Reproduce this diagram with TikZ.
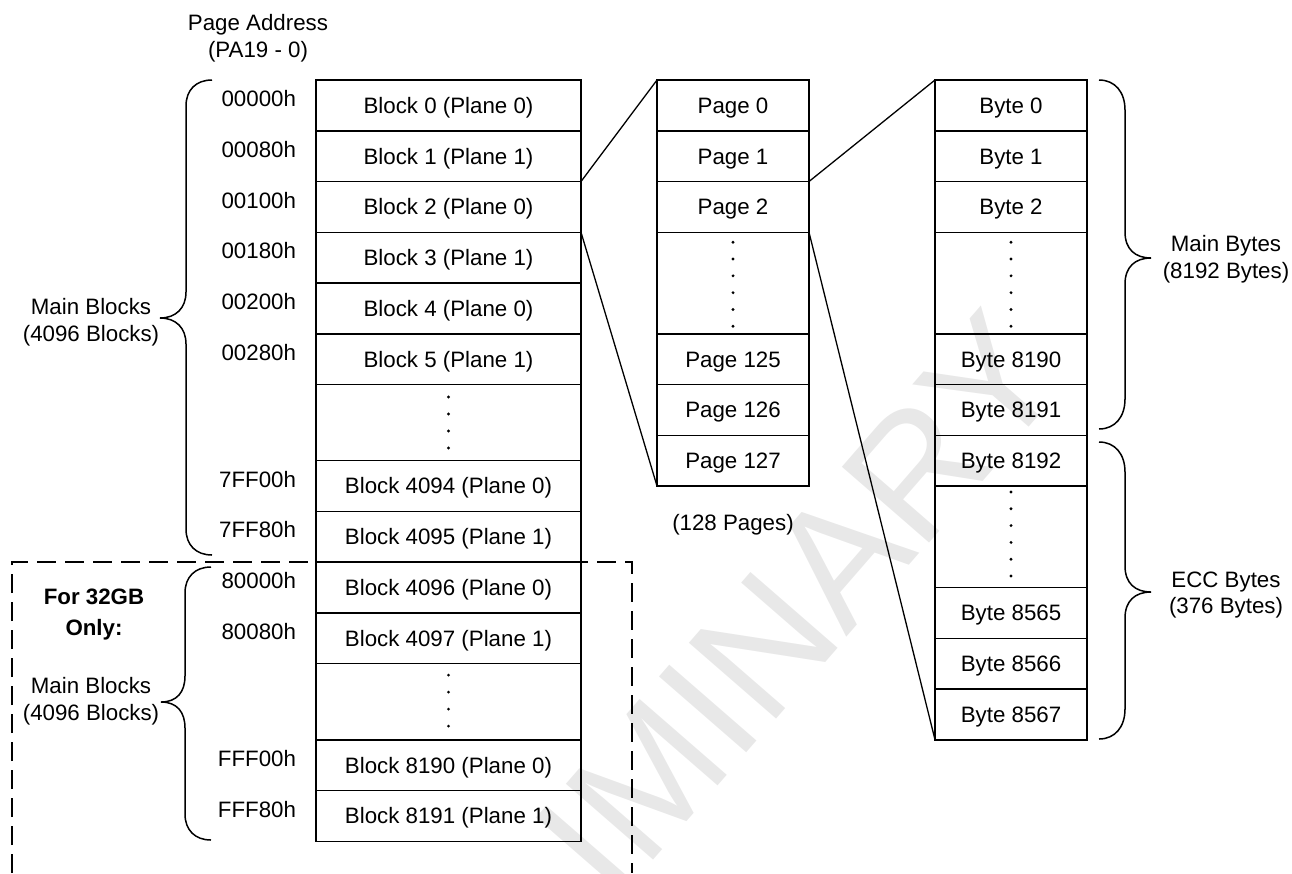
\documentclass[tikz,border=0pt]{standalone}
\usepackage{fontspec}
\setmainfont{Liberation Sans}
\begin{document}
\begin{tikzpicture}[x=1pt,y=-1pt,
  txt/.style={font=\fontsize{22.3}{27}\selectfont, inner sep=0pt, outer sep=0pt},
  lbl/.style={txt, anchor=base},
  addr/.style={txt, anchor=base east},
  cell/.style={txt, draw, line width=1.5pt, minimum height=50.75pt, text height=15.8pt, text depth=0pt},
  bcell/.style={cell, minimum width=265pt},
  pcell/.style={cell, minimum width=152pt},
  ycell/.style={cell, minimum width=152pt},
  zoomline/.style={line width=1.3pt},
  brace/.style={line width=1.5pt},
  dashbox/.style={line width=1.5pt, dash pattern=on 19pt off 9pt},
  wmark/.style={inner sep=0pt, text=black!9, font=\fontsize{168}{168}\selectfont, rotate=49},
]
\useasboundingbox (0,0) rectangle (1292,873);

% watermark
\node[wmark] (wm) at (655,770) {PRELIMINARY};

% header
\node[lbl] (pa1) at (258,30.5) {Page Address};
\node[lbl] (pa2) at (258,57.5) {(PA19 - 0)};

% block column
\node[bcell] (b0) at (448.5,105.375) {Block 0 (Plane 0)};
\node[bcell] (b1) at (448.5,156.125) {Block 1 (Plane 1)};
\node[bcell] (b2) at (448.5,206.875) {Block 2 (Plane 0)};
\node[bcell] (b3) at (448.5,257.625) {Block 3 (Plane 1)};
\node[bcell] (b4) at (448.5,308.375) {Block 4 (Plane 0)};
\node[bcell] (b5) at (448.5,359.125) {Block 5 (Plane 1)};
\node[bcell, minimum height=76.125pt] (bd1) at (448.5,422.56) {};
\node[bcell] (b4094) at (448.5,486) {Block 4094 (Plane 0)};
\node[bcell] (b4095) at (448.5,536.75) {Block 4095 (Plane 1)};
\node[bcell] (b4096) at (448.5,587.5) {Block 4096 (Plane 0)};
\node[bcell] (b4097) at (448.5,638.25) {Block 4097 (Plane 1)};
\node[bcell, minimum height=76.125pt] (bd2) at (448.5,701.69) {};
\node[bcell] (b8190) at (448.5,765.125) {Block 8190 (Plane 0)};
\node[bcell] (b8191) at (448.5,815.875) {Block 8191 (Plane 1)};
\foreach \k in {0,...,3} {
  \fill ([yshift=-12.5pt-17pt*\k]bd1.north) circle (1.6pt);
  \fill ([yshift=-11.5pt-17pt*\k]bd2.north) circle (1.6pt);
}

% addresses
\node[addr] (a0) at (296,106.5) {00000h};
\node[addr] (a1) at (296,157.25) {00080h};
\node[addr] (a2) at (296,208) {00100h};
\node[addr] (a3) at (296,258.75) {00180h};
\node[addr] (a4) at (296,309.5) {00200h};
\node[addr] (a5) at (296,360.25) {00280h};
\node[addr] (a6) at (296,487.1) {7FF00h};
\node[addr] (a7) at (296,537.9) {7FF80h};
\node[addr] (a8) at (296,588.6) {80000h};
\node[addr] (a9) at (296,639.4) {80080h};
\node[addr] (a10) at (296,766) {FFF00h};
\node[addr] (a11) at (296,817) {FFF80h};

% left braces and labels
\draw[brace] (212,80) .. controls (196,80) and (186,90) .. (186,106) -- (186,292)
  .. controls (186,308) and (176,318) .. (160,318)
  .. controls (176,318) and (186,328) .. (186,344) -- (186,529)
  .. controls (186,545) and (196,555) .. (212,555);
\node[lbl] (mb1) at (91,314) {Main Blocks};
\node[lbl] (mb2) at (91,341) {(4096 Blocks)};

\draw[brace] (211,567) .. controls (195,567) and (185,577) .. (185,593) -- (185,676)
  .. controls (185,692) and (177,702) .. (161,702)
  .. controls (177,702) and (185,712) .. (185,728) -- (185,814)
  .. controls (185,830) and (195,840) .. (211,840);
\node[lbl, font=\fontsize{22.3}{27}\selectfont\bfseries] (f1) at (94,604) {For 32GB};
\node[lbl, font=\fontsize{22.3}{27}\selectfont\bfseries] (f2) at (94,635) {Only:};
\node[lbl] (mb3) at (91,693) {Main Blocks};
\node[lbl] (mb4) at (91,720) {(4096 Blocks)};

% dashed region
\draw[dashbox] (12,873) -- (12,562) -- (632,562) -- (632,873);

% page column
\node[pcell] (p0) at (733,105.375) {Page 0};
\node[pcell] (p1) at (733,156.125) {Page 1};
\node[pcell] (p2) at (733,206.875) {Page 2};
\node[pcell, minimum height=101.5pt] (pd) at (733,283) {};
\node[pcell] (p125) at (733,359.125) {Page 125};
\node[pcell] (p126) at (733,409.875) {Page 126};
\node[pcell] (p127) at (733,460.625) {Page 127};
\foreach \k in {0,...,5} {
  \fill ([yshift=-10pt-16.8pt*\k]pd.north) circle (1.6pt);
}
\node[lbl] (np) at (733,530) {(128 Pages)};

% byte column
\node[ycell] (y0) at (1011,105.375) {Byte 0};
\node[ycell] (y1) at (1011,156.125) {Byte 1};
\node[ycell] (y2) at (1011,206.875) {Byte 2};
\node[ycell, minimum height=101.5pt] (yd1) at (1011,283) {};
\node[ycell] (y8190) at (1011,359.125) {Byte 8190};
\node[ycell] (y8191) at (1011,409.875) {Byte 8191};
\node[ycell] (y8192) at (1011,460.625) {Byte 8192};
\node[ycell, minimum height=101.5pt] (yd2) at (1011,536.75) {};
\node[ycell] (y8565) at (1011,612.875) {Byte 8565};
\node[ycell] (y8566) at (1011,663.625) {Byte 8566};
\node[ycell] (y8567) at (1011,714.375) {Byte 8567};
\foreach \k in {0,...,5} {
  \fill ([yshift=-10pt-16.8pt*\k]yd1.north) circle (1.6pt);
  \fill ([yshift=-6pt-16.8pt*\k]yd2.north) circle (1.6pt);
}

% zoom lines
\draw[zoomline] (b2.north east) -- (p0.north west);
\draw[zoomline] (b2.south east) -- (p127.south west);
\draw[zoomline] (p2.north east) -- (y0.north west);
\draw[zoomline] (p2.south east) -- (y8567.south west);

% right braces
\draw[brace] (1099,80) .. controls (1115,80) and (1125,92) .. (1125,110) -- (1125,232)
  .. controls (1125,249) and (1135,258) .. (1151,258)
  .. controls (1135,258) and (1125,267) .. (1125,284) -- (1125,399)
  .. controls (1125,417) and (1115,429) .. (1099,429);
\node[lbl] (mby1) at (1226,251) {Main Bytes};
\node[lbl] (mby2) at (1226,278) {(8192 Bytes)};

\draw[brace] (1099,442) .. controls (1115,442) and (1125,454) .. (1125,472) -- (1125,566)
  .. controls (1125,583) and (1135,592) .. (1151,592)
  .. controls (1135,592) and (1125,601) .. (1125,618) -- (1125,709)
  .. controls (1125,727) and (1115,739) .. (1099,739);
\node[lbl] (ecc1) at (1226,587) {ECC Bytes};
\node[lbl] (ecc2) at (1226,613) {(376 Bytes)};
\end{tikzpicture}
\end{document}
